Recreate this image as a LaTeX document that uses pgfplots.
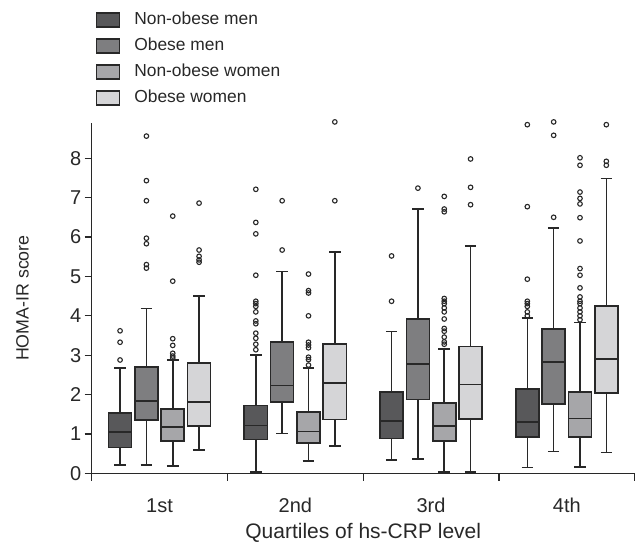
\documentclass[border=0pt]{standalone}
\usepackage{pgfplots}
\pgfplotsset{compat=1.18}
\usepgfplotslibrary{statistics}
\usepackage{fontspec}
\setmainfont{Liberation Sans}
\definecolor{c1}{RGB}{88,88,90}
\definecolor{c2}{RGB}{126,126,128}
\definecolor{c3}{RGB}{166,166,169}
\definecolor{c4}{RGB}{213,213,215}
\definecolor{edge}{RGB}{40,40,40}
\newcommand{\BP}[8]{%
\addplot[forget plot, boxplot prepared={draw position=#1, lower whisker=#2, lower quartile=#3, median=#4, upper quartile=#5, upper whisker=#6, box extend=0.17, whisker extend=0.085}, draw=edge, line width=1.6pt, boxplot/every box/.style={fill=#7}, mark=o, mark size=2.3pt, mark options={line width=1.1pt, fill=none, draw=edge}] table[row sep=\\, y index=0] {#8};}
\begin{document}
\begin{tikzpicture}
\begin{axis}[
  boxplot/draw direction=y,
  scale only axis, width=543pt, height=350.8pt,
  xmin=0, xmax=4, ymin=0, ymax=8.9,
  axis x line=bottom, axis y line=left,
  axis line style={-, line width=1.3pt, draw=edge},
  xtick={0.5,1.5,2.5,3.5}, xticklabels={1st,2nd,3rd,4th},
  minor xtick={0,1,2,3,4},
  major x tick style={draw=none},
  minor x tick style={draw=edge, line width=1.3pt},
  ytick={0,1,...,8},
  y tick style={draw=edge, line width=1.3pt},
  tick align=outside, major tick length=7pt, minor tick length=7pt,
  /pgf/number format/assume math mode=true,
  yticklabel style={font=\fontsize{20}{24}\selectfont, text=edge},
  xticklabel style={font=\fontsize{20}{24}\selectfont, text=edge, anchor=base, yshift=-31.5pt},
  xlabel={Quartiles of hs-CRP level},
  xlabel style={font=\fontsize{21}{25}\selectfont, text=edge, at={(axis description cs:0.5,0)}, anchor=base, yshift=-64.5pt},
  ylabel={HOMA-IR score},
  ylabel style={font=\fontsize{17.8}{20}\selectfont, text=edge, at={(axis description cs:-0.1275,0.5)}, anchor=center},
  legend style={draw=none, fill=none, inner sep=0pt, outer sep=0pt,
    at={(axis description cs:0.0079,1.3156)}, anchor=north west,
    font=\fontsize{17.4}{20}\selectfont, text=edge,
    nodes={inner sep=0pt, text height=13pt, text depth=3pt},
    row sep=10pt, /tikz/every odd column/.append style={column sep=14pt}},
  legend cell align=left,
  clip=false,
]
\addlegendimage{legend image code/.code={\draw[fill=c1,draw=edge,line width=1.3pt] (0pt,-7pt) rectangle (23pt,7pt);}}
\addlegendentry{Non-obese men}
\addlegendimage{legend image code/.code={\draw[fill=c2,draw=edge,line width=1.3pt] (0pt,-7pt) rectangle (23pt,7pt);}}
\addlegendentry{Obese men}
\addlegendimage{legend image code/.code={\draw[fill=c3,draw=edge,line width=1.3pt] (0pt,-7pt) rectangle (23pt,7pt);}}
\addlegendentry{Non-obese women}
\addlegendimage{legend image code/.code={\draw[fill=c4,draw=edge,line width=1.3pt] (0pt,-7pt) rectangle (23pt,7pt);}}
\addlegendentry{Obese women}
% 1st quartile
\BP{0.209}{0.22}{0.66}{1.05}{1.54}{2.68}{c1}{y\\3.62\\3.33\\2.88\\}
\BP{0.403}{0.22}{1.36}{1.84}{2.70}{4.19}{c2}{y\\8.56\\7.43\\6.92\\5.97\\5.83\\5.30\\5.21\\}
\BP{0.597}{0.19}{0.82}{1.18}{1.64}{2.88}{c3}{y\\6.53\\4.88\\3.42\\3.25\\3.05\\2.98\\2.93\\}
\BP{0.791}{0.60}{1.21}{1.81}{2.81}{4.51}{c4}{y\\6.86\\5.67\\5.51\\5.42\\5.36\\}
% 2nd quartile
\BP{1.209}{0.04}{0.86}{1.22}{1.73}{3.01}{c1}{y\\7.21\\6.37\\6.08\\5.03\\4.37\\4.31\\4.24\\4.10\\3.87\\3.80\\3.56\\3.43\\3.28\\3.14\\}
\BP{1.403}{1.02}{1.81}{2.23}{3.33}{5.13}{c2}{y\\6.92\\5.67\\}
\BP{1.597}{0.32}{0.78}{1.07}{1.56}{2.67}{c3}{y\\5.06\\4.64\\4.58\\4.00\\3.33\\3.26\\3.19\\2.95\\2.89\\2.75\\}
\BP{1.791}{0.70}{1.37}{2.30}{3.28}{5.62}{c4}{y\\8.92\\6.92\\}
% 3rd quartile
\BP{2.209}{0.35}{0.89}{1.33}{2.07}{3.60}{c1}{y\\5.52\\4.37\\}
\BP{2.403}{0.37}{1.88}{2.78}{3.92}{6.71}{c2}{y\\7.24\\}
\BP{2.597}{0.04}{0.83}{1.20}{1.79}{3.16}{c3}{y\\7.03\\6.71\\6.64\\4.44\\4.37\\4.31\\4.20\\4.10\\3.92\\3.68\\3.61\\3.46\\3.34\\3.28\\}
\BP{2.791}{0.04}{1.39}{2.26}{3.22}{5.77}{c4}{y\\7.98\\7.26\\6.82\\}
% 4th quartile
\BP{3.209}{0.15}{0.93}{1.30}{2.14}{3.94}{c1}{y\\8.85\\6.77\\4.93\\4.37\\4.31\\4.24\\4.10\\4.00\\}
\BP{3.403}{0.56}{1.77}{2.83}{3.66}{6.23}{c2}{y\\8.92\\8.58\\6.50\\}
\BP{3.597}{0.17}{0.93}{1.40}{2.07}{3.83}{c3}{y\\8.01\\7.82\\7.14\\6.98\\6.84\\6.49\\5.90\\5.20\\5.03\\4.71\\4.48\\4.37\\4.31\\4.20\\4.10\\4.00\\3.90\\}
\BP{3.791}{0.53}{2.04}{2.90}{4.25}{7.48}{c4}{y\\8.85\\7.92\\7.82\\}
\end{axis}
\pgfresetboundingbox
\path (current axis.south west) ++(-91.7pt,-67.5pt) rectangle ++(639pt,541pt);
\end{tikzpicture}
\end{document}
